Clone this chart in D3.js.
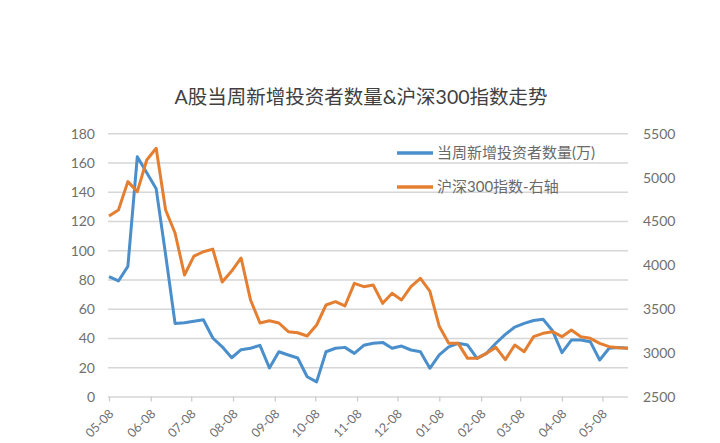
<!DOCTYPE html>
<html><head><meta charset="utf-8">
<script src="https://cdn.jsdelivr.net/npm/d3@7"></script>
<style>
body{margin:0;background:#fff;}
text{font-family:Lato,"Noto Sans CJK SC",sans-serif;}
</style>
</head><body>
<svg id="c" width="720" height="443"></svg>
<script>
const title = "A股当周新增投资者数量&沪深300指数走势";
const seriesNames = ["当周新增投资者数量(万)", "沪深300指数-右轴"];

const dates = [
  "2015-05-08","2015-05-15","2015-05-22","2015-05-29","2015-06-05","2015-06-12","2015-06-19","2015-06-26",
  "2015-07-03","2015-07-10","2015-07-17","2015-07-24","2015-07-31","2015-08-07","2015-08-14","2015-08-21",
  "2015-08-28","2015-09-04","2015-09-11","2015-09-18","2015-09-25","2015-10-02","2015-10-09","2015-10-16",
  "2015-10-23","2015-10-30","2015-11-06","2015-11-13","2015-11-20","2015-11-27","2015-12-04","2015-12-11",
  "2015-12-18","2015-12-25","2016-01-01","2016-01-08","2016-01-15","2016-01-22","2016-01-29","2016-02-05",
  "2016-02-12","2016-02-19","2016-02-26","2016-03-04","2016-03-11","2016-03-18","2016-03-25","2016-04-01",
  "2016-04-08","2016-04-15","2016-04-22","2016-04-29","2016-05-06","2016-05-13","2016-05-20","2016-05-27"
];

const newInvestors = [
  82, 79, 89, 164, 153, 142, 97, 50,
  50.5, 51.5, 52.5, 40, 34, 26.5, 32, 33,
  35, 19.5, 30.6, 28.4, 26.3, 13.5, 10, 30.6,
  33, 33.6, 29.5, 35, 36.4, 37, 33, 34.5,
  31.8, 30.6, 19.3, 28.4, 34, 36.4, 35.2, 26.1,
  29.5, 36.4, 42.5, 47.5, 50, 52, 52.8, 45,
  30, 38.6, 38.6, 37.5, 25, 33, 33.5, 33
];

const hs300 = [
  4558, 4626, 4949, 4835, 5196, 5330, 4626, 4364,
  3885, 4100, 4150, 4180, 3805, 3930, 4079, 3600,
  3338, 3364, 3338, 3239, 3227, 3190, 3315, 3543,
  3581, 3532, 3790, 3752, 3771, 3562, 3676, 3600,
  3752, 3847, 3700, 3300, 3106, 3106, 2935, 2935,
  2992, 3060, 2920, 3087, 3011, 3182, 3220, 3239,
  3182, 3258, 3182, 3163, 3106, 3068, 3055, 3049
];

const tickDates = [
  "2015-05-08","2015-06-08","2015-07-08","2015-08-08","2015-09-08","2015-10-08","2015-11-08",
  "2015-12-08","2016-01-08","2016-02-08","2016-03-08","2016-04-08","2016-05-08"
];
const leftTicks = [0, 20, 40, 60, 80, 100, 120, 140, 160, 180];
const rightTicks = [2500, 3000, 3500, 4000, 4500, 5000, 5500];

const parse = d3.timeParse("%Y-%m-%d");
const fmt = d3.timeFormat("%m-%d");
const svg = d3.select("#c");

const pL = 109, pR = 628, pT = 133.3, pB = 396.5;
const x = d3.scaleTime().domain([parse(dates[0]), parse(dates[dates.length - 1])]).range([pL, pR]);
const yL = d3.scaleLinear().domain([0, 180]).range([pB, pT]);
const yR = d3.scaleLinear().domain([2500, 5500]).range([pB, pT]);

// title
svg.append("text").attr("x", 361).attr("y", 104).attr("text-anchor", "middle")
  .attr("font-size", 19.5).attr("fill", "#404040").text(title);

// gridlines (drawn by the axis generator)
const grid = svg.append("g").attr("transform", `translate(${pL - 1},0)`)
  .call(d3.axisLeft(yL).tickValues(leftTicks).tickSize(-(pR - pL + 1)).tickFormat(""));
grid.select(".domain").remove();
grid.selectAll(".tick line").attr("stroke", "#d6d6d6").attr("stroke-width", 1.6);

// left axis
const gL = svg.append("g").attr("transform", `translate(${pL - 14},0)`)
  .call(d3.axisLeft(yL).tickValues(leftTicks).tickSize(0).tickPadding(0));
gL.select(".domain").remove();
gL.selectAll("text").attr("font-size", 14).attr("fill", "#6f6f6f").attr("dy", "0.35em");

// right axis
const gR = svg.append("g").attr("transform", `translate(${pR + 15},0)`)
  .call(d3.axisRight(yR).tickValues(rightTicks).tickFormat(d3.format("d")).tickSize(0).tickPadding(0));
gR.select(".domain").remove();
gR.selectAll("text").attr("font-size", 14).attr("fill", "#6f6f6f").attr("dy", "0.35em");

// bottom axis
const gB = svg.append("g").attr("transform", `translate(0,${pB})`)
  .call(d3.axisBottom(x).tickValues(tickDates.map(parse)).tickFormat(fmt).tickSize(5).tickPadding(0));
gB.select(".domain").remove();
gB.selectAll(".tick line").attr("stroke", "#cccccc").attr("stroke-width", 1.3);
gB.selectAll("text").attr("font-size", 12.5).attr("fill", "#6f6f6f")
  .attr("text-anchor", "end").attr("dy", 0).attr("y", 0)
  .attr("transform", "translate(5,18) rotate(-45)");

// lines
const blue = "#4a8fcb", orange = "#e47f32";
const lineL = d3.line().x((d, i) => x(parse(dates[i]))).y(d => yL(d));
const lineR = d3.line().x((d, i) => x(parse(dates[i]))).y(d => yR(d));
svg.append("path").datum(newInvestors).attr("d", lineL).attr("fill", "none")
  .attr("stroke", blue).attr("stroke-width", 3).attr("stroke-linejoin", "round");
svg.append("path").datum(hs300).attr("d", lineR).attr("fill", "none")
  .attr("stroke", orange).attr("stroke-width", 3).attr("stroke-linejoin", "round");

// legend
const legend = svg.append("g");
[blue, orange].forEach((c, i) => {
  const yy = 153 + i * 34;
  legend.append("line").attr("x1", 397).attr("x2", 433).attr("y1", yy).attr("y2", yy)
    .attr("stroke", c).attr("stroke-width", 3.5);
  legend.append("text").attr("x", 437).attr("y", yy).attr("dy", "0.35em")
    .attr("font-size", 15).attr("fill", "#6a6a6a").text(seriesNames[i]);
});
</script>
</body></html>
